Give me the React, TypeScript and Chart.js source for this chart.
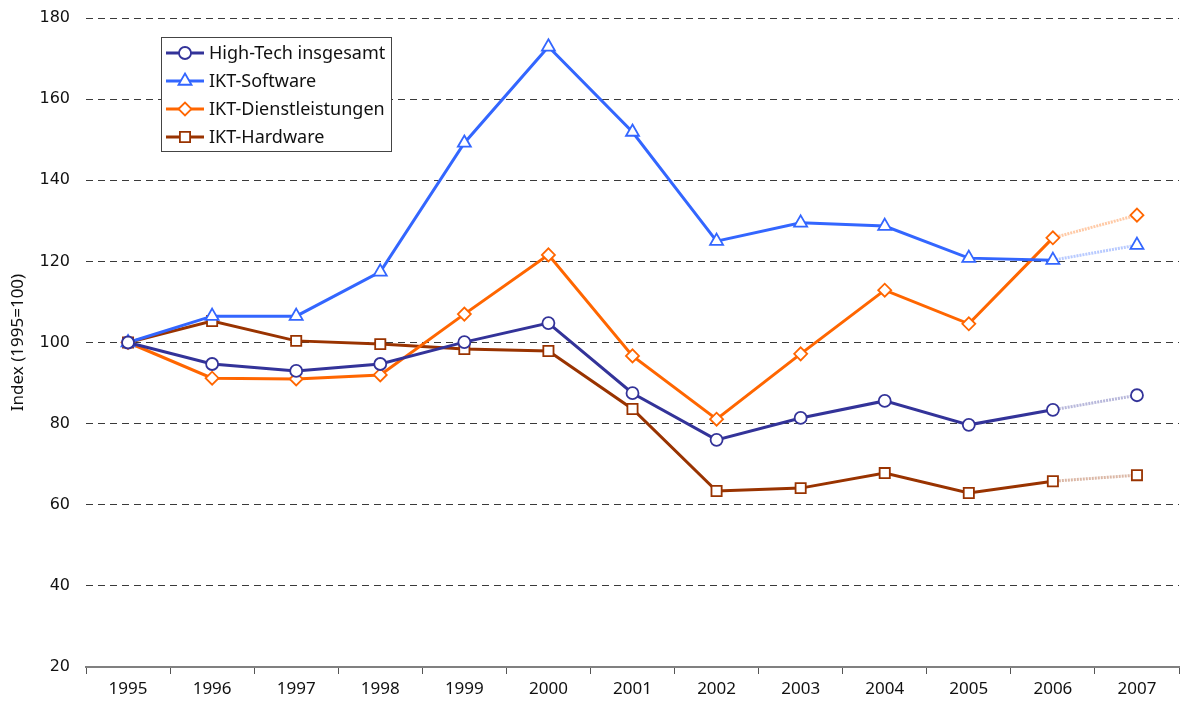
import React, { useEffect, useRef } from "react";
import { Chart, registerables } from "chart.js";
import { drawPoint } from "chart.js/helpers";

Chart.register(...registerables);

const years = ["1995", "1996", "1997", "1998", "1999", "2000", "2001", "2002", "2003", "2004", "2005", "2006", "2007"];
const highTech = [100, 94.7, 93.0, 94.7, 100.1, 104.8, 87.5, 76.0, 81.4, 85.6, 79.7, 83.4, 87.0];
const software = [100, 106.5, 106.5, 117.4, 149.2, 172.9, 151.9, 125.0, 129.5, 128.7, 120.8, 120.3, 124.0];
const services = [100, 91.2, 91.0, 92.0, 107.0, 121.6, 96.7, 81.1, 97.2, 112.9, 104.6, 125.8, 131.4];
const hardware = [100, 105.3, 100.4, 99.6, 98.4, 97.9, 83.6, 63.4, 64.1, 67.8, 62.9, 65.8, 67.3];

const seriesNames = ["High-Tech insgesamt", "IKT-Software", "IKT-Dienstleistungen", "IKT-Hardware"];
const seriesData = [highTech, software, services, hardware];
const colors = ["#333399", "#3366ff", "#ff6600", "#993300"];
const fadedColors = ["rgba(51,51,153,0.35)", "rgba(51,102,255,0.35)", "rgba(255,102,0,0.35)", "rgba(153,51,0,0.35)"];
const styles = ["circle", "triangle", "rectRot", "rect"];
const radii = [6, 7.5, 6.5, 7.2];

const FONT = "'Noto Sans', sans-serif";

const legendPlugin = {
  id: "boxLegend",
  afterDraw(chart: any) {
    const ctx = chart.ctx;
    ctx.save();
    const x0 = 161, y0 = 37, w = 230, h = 114;
    ctx.fillStyle = "#ffffff";
    ctx.fillRect(x0, y0, w, h);
    ctx.strokeStyle = "#444444";
    ctx.lineWidth = 1;
    ctx.strokeRect(x0 + 0.5, y0 + 0.5, w, h);
    const rowY = [53, 81, 109, 137];
    chart.data.datasets.forEach((ds: any, i: number) => {
      const y = rowY[i];
      ctx.strokeStyle = colors[i];
      ctx.lineWidth = 3;
      ctx.beginPath();
      ctx.moveTo(166, y);
      ctx.lineTo(204, y);
      ctx.stroke();
      ctx.fillStyle = "#ffffff";
      ctx.strokeStyle = colors[i];
      ctx.lineWidth = 1.8;
      drawPoint(ctx, { pointStyle: styles[i], radius: radii[i], borderWidth: 1.8 } as any, 185, y);
      ctx.fillStyle = "#111111";
      ctx.font = "18px " + FONT;
      ctx.textAlign = "left";
      ctx.textBaseline = "middle";
      ctx.fillText(ds.label, 209, y + 1);
    });
    ctx.restore();
  },
};

export default function App() {
  const ref = useRef<HTMLCanvasElement>(null);
  useEffect(() => {
    document.body.style.margin = "0";
    const datasets = seriesNames.map((name, i) => ({
      label: name,
      data: seriesData[i],
      borderColor: colors[i],
      backgroundColor: "#ffffff",
      borderWidth: 3,
      pointStyle: styles[i],
      pointRadius: radii[i],
      pointBorderWidth: 1.8,
      pointBorderColor: colors[i],
      pointBackgroundColor: "#ffffff",
      tension: 0,
      clip: false,
      segment: {
        borderColor: (c: any) => (c.p1DataIndex === years.length - 1 ? fadedColors[i] : colors[i]),
        borderDash: (c: any) => (c.p1DataIndex === years.length - 1 ? [2, 1] : undefined),
      },
    }));
    const chart = new Chart(ref.current!, {
      type: "line",
      data: { labels: years, datasets },
      plugins: [legendPlugin],
      options: {
        animation: false,
        responsive: false,
        maintainAspectRatio: false,
        layout: { autoPadding: false, padding: { top: 18, right: 1, left: 0, bottom: 0 } },
        plugins: { legend: { display: false }, tooltip: { enabled: false } },
        scales: {
          x: {
            offset: true,
            grid: { offset: true, drawOnChartArea: false, drawTicks: true, tickLength: 7, color: "#555555", lineWidth: 1 },
            border: { display: true, color: "#808080", width: 2 },
            ticks: { color: "#111111", font: { family: FONT, size: 17 }, padding: 5 },
            afterFit: (s: any) => { s.height = 41; s.paddingLeft = 0; s.paddingRight = 0; },
          },
          y: {
            min: 20,
            max: 180,
            ticks: { stepSize: 20, color: "#111111", font: { family: "'DejaVu Sans', sans-serif", size: 16 }, padding: 16 },
            grid: {
              drawTicks: false,
              color: (c: any) => (c.tick && c.tick.value === 20 ? "rgba(0,0,0,0)" : "#3a3a3a"),
              lineWidth: 1,
            },
            border: { display: false, dash: [7, 5] },
            title: { display: true, text: "Index (1995=100)", color: "#111111", font: { family: FONT, size: 17 }, padding: { top: 8, bottom: 0 } },
            afterFit: (s: any) => { s.width = 86; s.paddingTop = 0; s.paddingBottom = 0; },
          },
        },
      },
    });
    return () => chart.destroy();
  }, []);
  return (
    <div style={{ width: 1180, height: 708 }}>
      <canvas ref={ref} width={1180} height={708} style={{ display: "block" }} />
    </div>
  );
}
